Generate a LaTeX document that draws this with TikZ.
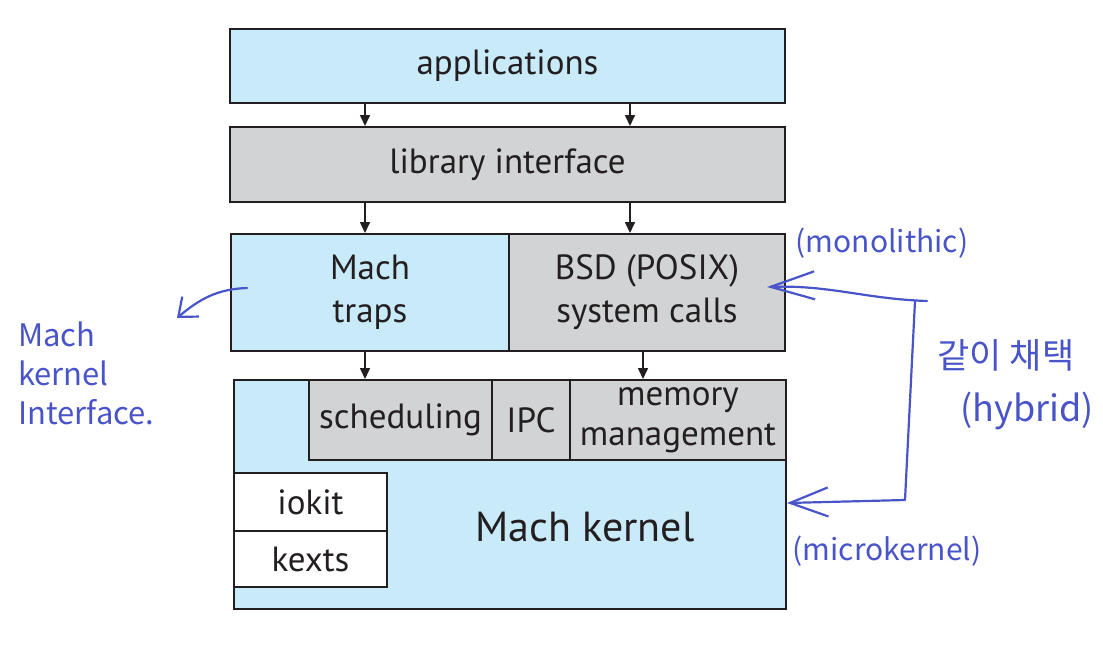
\documentclass[tikz,border=0pt]{standalone}
\usepackage{fontspec}
\setmainfont{PT Sans}
\newfontfamily\handfont{Noto Sans CJK KR}
\usetikzlibrary{arrows.meta}
\definecolor{appblue}{RGB}{200,234,249}
\definecolor{layergray}{RGB}{209,211,212}
\definecolor{inkblue}{RGB}{72,84,200}
\definecolor{textdark}{RGB}{35,31,32}
\tikzset{
  layer/.style={draw=textdark, line width=2pt, text=textdark, align=center,
    inner sep=0pt, font=\fontsize{35}{43}\selectfont},
  call/.style={draw=textdark, line width=1.6pt, -{Triangle[length=11pt,width=10pt]}},
  hand/.style={draw=inkblue, line width=2.2pt, line cap=round, line join=round},
  handtext/.style={text=inkblue, inner sep=0pt, font=\handfont\fontsize{30}{40}\selectfont}
}
\begin{document}
\begin{tikzpicture}[x=1pt, y=-1pt]
  \useasboundingbox (0,0) rectangle (1103,646);
  % user level
  \node[layer, fill=appblue, minimum width=555pt, minimum height=74pt] (apps) at (507.5,66) {applications};
  \node[layer, fill=layergray, minimum width=555pt, minimum height=75pt] (lib) at (507.5,164.5) {library interface};
  \node[layer, fill=appblue, minimum width=278pt, minimum height=117pt] (traps) at (370,292.5) {Mach\\traps};
  \node[layer, fill=layergray, minimum width=276pt, minimum height=117pt] (bsd) at (647,292.5) {BSD (POSIX)\\system calls};
  % kernel
  \node[layer, fill=appblue, minimum width=552pt, minimum height=229pt] (kernel) at (510,494.5) {};
  \node[layer, fill=layergray, minimum width=183pt, minimum height=80pt] (sched) at (400.5,420) {scheduling};
  \node[layer, fill=layergray, minimum width=78pt, minimum height=80pt] (ipc) at (531,420) {IPC};
  \node[layer, fill=layergray, minimum width=216pt, minimum height=80pt, font=\fontsize{35}{40}\selectfont] (mem) at (678,420) {memory\\management};
  \node[layer, fill=white, minimum width=153pt, minimum height=58pt] (iokit) at (310.5,502) {iokit};
  \node[layer, fill=white, minimum width=153pt, minimum height=56pt] (kexts) at (310.5,559) {kexts};
  \node[layer, draw=none, font=\fontsize{42}{48}\selectfont] (kname) at (585,527) {Mach kernel};
  % calls between layers
  \coordinate (left) at (365,0);
  \coordinate (right) at (630,0);
  \coordinate (down) at (643,0);
  \draw[call] (apps.south -| left) -- (lib.north -| left);
  \draw[call] (apps.south -| right) -- (lib.north -| right);
  \draw[call] (lib.south -| left) -- (traps.north -| left);
  \draw[call] (lib.south -| right) -- (bsd.north -| right);
  \draw[call] (traps.south -| left) -- (sched.north -| left);
  \draw[call] (bsd.south -| down) -- (mem.north -| down);
  % notes
  \node[handtext] (mono) at (882,243) {(monolithic)};
  \node[handtext] (micro) at (887,551) {(microkernel)};
  \node[handtext, font=\handfont\fontsize{35}{40}\selectfont] (together) at (1006,355) {같이 채택};
  \node[handtext, font=\handfont\fontsize{36}{40}\selectfont] (hybrid) at (1027,411) {(hybrid)};
  \node[handtext, anchor=north west, align=left, font=\handfont\fontsize{31}{39}\selectfont] (mki) at (18,322) {Mach\\kernel\\Interface.};
  \coordinate (monotip) at (767,287);
  \coordinate (microtip) at (787,503);
  \coordinate (mkitip) at (177,318);
  \coordinate (bend) at (915,301);
  \draw[hand, {Straight Barb[length=44pt,width=28pt]}-] (monotip) to[out=2,in=178] (927,301);
  \draw[hand, -{Straight Barb[length=38pt,width=29pt]}] (bend) -- (905,500) -- (microtip);
  \draw[hand, -{Straight Barb[length=16pt,width=26pt]}] ([xshift=17pt,yshift=4.5pt]traps.west) to[out=182,in=40] (mkitip);
\end{tikzpicture}
\end{document}
